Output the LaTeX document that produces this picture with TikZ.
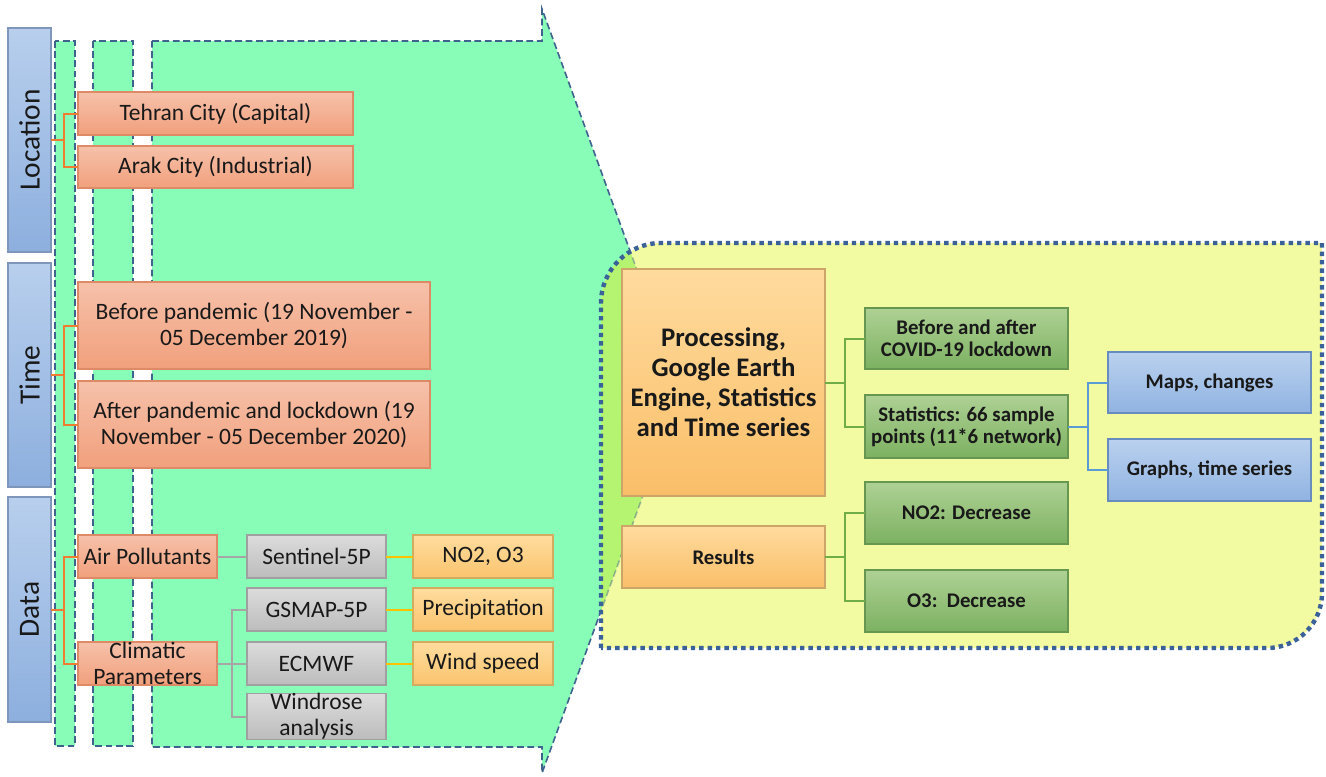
\documentclass[tikz,border=0pt]{standalone}
\usepackage{fontspec}
\setmainfont{Carlito}
\definecolor{mint}{RGB}{136,253,184}
\definecolor{lime}{RGB}{180,244,112}
\definecolor{pale}{RGB}{242,250,162}
\definecolor{dashc}{RGB}{62,100,142}
\definecolor{dotc}{RGB}{58,98,152}
\definecolor{txt}{RGB}{25,25,25}
\definecolor{corange}{RGB}{237,125,49}
\definecolor{cgray}{RGB}{166,166,166}
\definecolor{cgold}{RGB}{255,192,0}
\definecolor{cgreen}{RGB}{112,173,71}
\definecolor{cblue}{RGB}{91,155,213}
\tikzset{
  base/.style={inner sep=0pt, outer sep=0pt, line width=0.6pt, text=txt, align=center},
  lblbox/.style={base, top color={rgb,255:red,184;green,207;blue,237}, bottom color={rgb,255:red,141;green,175;blue,222}, draw={rgb,255:red,125;green,150;blue,185}},
  lbltext/.style={rotate=90, font=\fontsize{14.7pt}{16pt}\selectfont, text=txt},
  obox/.style={base, top color={rgb,255:red,246;green,193;blue,170}, bottom color={rgb,255:red,241;green,160;blue,124}, draw={rgb,255:red,222;green,138;blue,102}, font=\fontsize{11.75pt}{12.6pt}\selectfont},
  gbox/.style={base, top color={rgb,255:red,220;green,220;blue,220}, bottom color={rgb,255:red,188;green,188;blue,188}, draw={rgb,255:red,160;green,160;blue,160}, font=\fontsize{11.75pt}{12.8pt}\selectfont},
  ybox/.style={base, top color={rgb,255:red,255;green,220;blue,158}, bottom color={rgb,255:red,250;green,196;blue,110}, draw={rgb,255:red,212;green,172;blue,95}, font=\fontsize{11.75pt}{12.6pt}\selectfont},
  pbox/.style={base, top color={rgb,255:red,255;green,219;blue,158}, bottom color={rgb,255:red,250;green,190;blue,104}, draw={rgb,255:red,205;green,165;blue,105}},
  grbox/.style={base, top color={rgb,255:red,174;green,209;blue,148}, bottom color={rgb,255:red,124;green,177;blue,97}, draw={rgb,255:red,102;green,150;blue,80}, font=\bfseries\fontsize{10.4pt}{11pt}\selectfont},
  bbox/.style={base, top color={rgb,255:red,186;green,209;blue,238}, bottom color={rgb,255:red,144;green,179;blue,226}, draw={rgb,255:red,105;green,140;blue,190}, font=\bfseries\fontsize{10.4pt}{11pt}\selectfont},
  strip/.style={fill=mint, draw=dashc, line width=0.8pt, dash pattern=on 3.4pt off 1.8pt},
  conn/.style={line width=1pt},
}
% \bx[style]{name}{x1}{y1}{x2}{y2}{text}  (pixel units, y downwards)
\newcommand\bx[7][]{%
  \pgfmathsetmacro\bxw{(#5-#3)*0.5}%
  \pgfmathsetmacro\bxh{(#6-#4)*0.5}%
  \pgfmathsetmacro\bxx{(#3+#5)/2}%
  \pgfmathsetmacro\bxy{(#4+#6)/2}%
  \node[#1, minimum width=\bxw pt, minimum height=\bxh pt] (#2) at (\bxx,\bxy) {#7};}
\begin{document}
\begin{tikzpicture}[x=0.5pt,y=-0.5pt]
\useasboundingbox (0,0) rectangle (1326,776);
% green dashed strips and arrow
\path[strip] (55,41) rectangle (75,746);
\path[strip] (93,41) rectangle (133,746);
\path[strip] (152,41) -- (542,41) -- (542,9) -- (681,391) -- (542,773) -- (542,747) -- (152,747) -- cycle;
% yellow panel
\fill[pale] (601,648) -- (601,303) .. controls (601,270) and (628,243) .. (661,243) -- (1322,243) -- (1322,593) .. controls (1322,623) and (1298,648) .. (1267,648) -- cycle;
\begin{scope}
\clip (601,648) -- (601,303) .. controls (601,270) and (628,243) .. (661,243) -- (1322,243) -- (1322,593) .. controls (1322,623) and (1298,648) .. (1267,648) -- cycle;
\fill[lime] (152,41) -- (542,41) -- (542,9) -- (681,391) -- (542,773) -- (542,747) -- (152,747) -- cycle;
\draw[draw=dashc, draw opacity=0.45, line width=0.8pt, dash pattern=on 3.4pt off 1.8pt] (152,41) -- (542,41) -- (542,9) -- (681,391) -- (542,773) -- (542,747) -- (152,747) -- cycle;
\end{scope}
\draw[dotc, line width=2.2pt, dash pattern=on 2.2pt off 2pt] (601,648) -- (601,303) .. controls (601,270) and (628,243) .. (661,243) -- (1322,243) -- (1322,593) .. controls (1322,623) and (1298,648) .. (1267,648) -- cycle;

% vertical label boxes
\bx[lblbox]{loc}{8}{28}{51}{252}{}
\node[lbltext] (loct) at (loc.center) {Location};
\bx[lblbox]{tim}{8}{263}{51}{487}{}
\node[lbltext] (timt) at (tim.center) {Time};
\bx[lblbox]{dat}{8}{497}{51}{722}{}
\node[lbltext] (datt) at (dat.center) {Data};

% left boxes
\bx[obox]{teh}{78}{92}{353}{135}{Tehran City (Capital)}
\bx[obox]{ark}{78}{146}{353}{188}{Arak City (Industrial)}
\bx[obox]{bef}{78}{282}{430}{369}{Before pandemic (19 November -\\05 December 2019)}
\bx[obox]{aft}{78}{381}{430}{468}{After pandemic and lockdown (19\\November - 05 December 2020)}
\bx[obox]{air}{78}{535}{217}{578}{Air Pollutants}
\bx[obox]{cli}{78}{642}{217}{685}{Climatic\\Parameters}
\bx[gbox]{sen}{247}{535}{386}{578}{Sentinel-5P}
\bx[gbox]{gsm}{247}{588}{386}{631}{GSMAP-5P}
\bx[gbox]{ecm}{247}{642}{386}{685}{ECMWF}
\bx[gbox]{wr}{247}{695}{386}{738}{Windrose\\analysis}
\bx[ybox]{noo}{413}{535}{553}{578}{NO2, O3}
\bx[ybox]{pre}{413}{588}{553}{631}{Precipitation}
\bx[ybox]{wsp}{413}{642}{553}{685}{Wind speed}

% right boxes
\bx[pbox, font=\bfseries\fontsize{13.4pt}{15pt}\selectfont]{proc}{622}{269}{825}{496}{Processing,\\Google Earth\\Engine, Statistics\\and Time series}
\bx[pbox, font=\bfseries\fontsize{10.4pt}{11pt}\selectfont]{res}{622}{526}{825}{588}{Results}
\bx[grbox]{baf}{865}{308}{1068}{369}{Before and after\\COVID-19 lockdown}
\bx[grbox]{sta}{865}{395}{1068}{458}{Statistics: 66 sample\\points (11*6 network)}
\bx[grbox]{no2}{865}{482}{1068}{544}{NO2: Decrease}
\bx[grbox]{o3}{865}{570}{1068}{632}{O3:\ \ Decrease}
\bx[bbox]{map}{1108}{352}{1311}{413}{Maps, changes}
\bx[bbox]{gra}{1108}{439}{1311}{501}{Graphs, time series}

% connectors
\draw[conn, corange] (loc.east) -- ++(13,0) coordinate (j1);
\draw[conn, corange] (j1) |- (teh.west);
\draw[conn, corange] (j1) |- (ark.west);
\draw[conn, corange] (tim.east) -- ++(13,0) coordinate (j2);
\draw[conn, corange] (j2) |- (bef.west);
\draw[conn, corange] (j2) |- (aft.west);
\draw[conn, corange] (dat.east) -- ++(13,0) coordinate (j3);
\draw[conn, corange] (j3) |- (air.west);
\draw[conn, corange] (j3) |- (cli.west);
\draw[conn, cgray] (air.east) -- (sen.west);
\draw[conn, cgray] (cli.east) -- (ecm.west);
\coordinate (j4) at ([xshift=7.5pt]cli.east);
\draw[conn, cgray] (j4) |- (gsm.west);
\draw[conn, cgray] (j4) |- (wr.west);
\draw[conn, cgold] (sen.east) -- (noo.west);
\draw[conn, cgold] (gsm.east) -- (pre.west);
\draw[conn, cgold] (ecm.east) -- (wsp.west);
\draw[conn, cgreen] (proc.east) -- ++(20,0) coordinate (j5);
\draw[conn, cgreen] (j5) |- (baf.west);
\draw[conn, cgreen] (j5) |- (sta.west);
\draw[conn, cgreen] (res.east) -- ++(20,0) coordinate (j6);
\draw[conn, cgreen] (j6) |- (no2.west);
\draw[conn, cgreen] (j6) |- (o3.west);
\draw[conn, cblue] (sta.east) -- ++(20,0) coordinate (j7);
\draw[conn, cblue] (j7) |- (map.west);
\draw[conn, cblue] (j7) |- (gra.west);
\end{tikzpicture}
\end{document}
